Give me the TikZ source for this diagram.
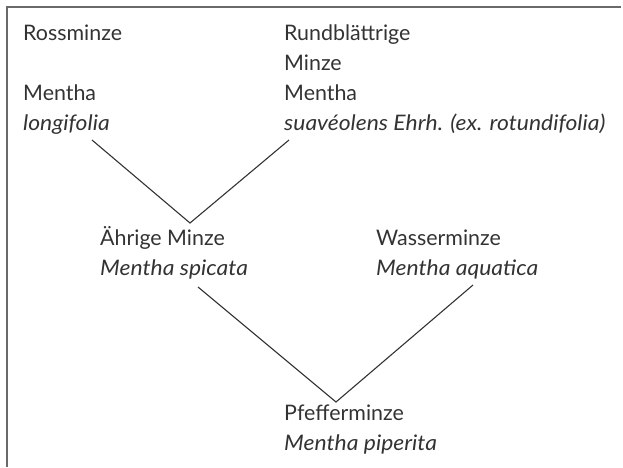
\documentclass[tikz,border=0pt]{standalone}
\usepackage{fontspec}
\setmainfont{Lato}[ItalicFeatures={FakeStretch=1.07}]
\usetikzlibrary{positioning,calc}
\definecolor{ink}{HTML}{333333}
\definecolor{rulegray}{HTML}{6A6A6A}
\tikzset{
  species/.style={anchor=base west, align=left, inner sep=0pt,
    text=ink, font=\fontsize{21.4}{30}\selectfont},
  cross/.style={draw=ink, line width=1.1pt},
  frame/.style={draw=rulegray, line width=1.6pt},
}

\begin{document}
\begin{tikzpicture}[x=1pt,y=-1pt]
  \useasboundingbox (0,0) rectangle (623,467);

  % frame
  \draw[frame] (7,467) -- (7,7) -- (621,7);

  % parents (anchored on the last line)
  \node[species] (ross) at (23,130) {Rossminze\\[30pt]Mentha\\\textit{longifolia}};
  \node[species] (rund) at (284,130) {Rundblättrige\\Minze\\Mentha\\\textit{suavéolens Ehrh. (ex. rotundifolia)}};

  % first cross
  \node[species] (aehr) at (100,275) {Ährige Minze\\\textit{Mentha spicata}};
  \node[species] (wass) at (376,275) {Wasserminze\\\textit{Mentha aquatica}};
  \coordinate (ross-out) at (92,140);
  \coordinate (rund-out) at (289,140);
  \coordinate (j1) at (190,223);
  \draw[cross] (ross-out) -- (j1) -- (rund-out);

  % second cross
  \node[species] (pfef) at (284,450) {Pfefferminze\\\textit{Mentha piperita}};
  \coordinate (aehr-out) at (198,287);
  \coordinate (wass-out) at (473,285);
  \coordinate (j2) at (336,402);
  \draw[cross] (aehr-out) -- (j2) -- (wass-out);
\end{tikzpicture}
\end{document}
